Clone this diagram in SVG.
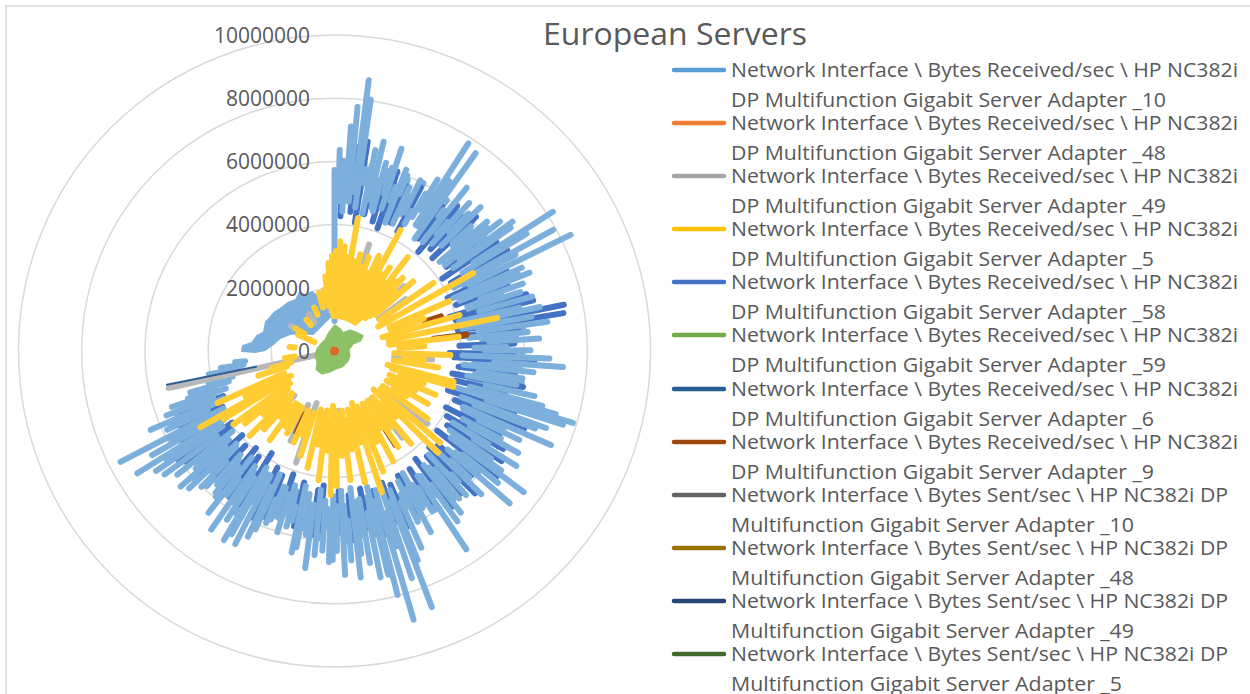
<svg xmlns="http://www.w3.org/2000/svg" width="1250" height="694" viewBox="0 0 1250 694">
<style>
.txt{font-family:"Open Sans","Liberation Sans",sans-serif;fill:#595959}
.grid circle{fill:none;stroke:#D9D9D9;stroke-width:1.5}
g.s{fill:none;stroke-width:6;stroke-linecap:round;stroke-linejoin:round}
.lb{stroke:#7DAFDD}
.db{stroke:#4472C4}
.yl{stroke:#FFCC33}
.gr{stroke:#B8B8B8}
.br{stroke:#9E480E}
.leg line{stroke-width:4.5;stroke-linecap:round}
.leg text{font-size:20px}
</style>
<rect width="1250" height="694" fill="#FFFFFF"/>
<rect id="frame" x="6" y="6" width="1300" height="720" fill="none" stroke="#D9D9D9" stroke-width="1.5"/>
<g id="grid" class="grid">
<circle cx="334.5" cy="351" r="63.2"/>
<circle cx="334.5" cy="351" r="126.4"/>
<circle cx="334.5" cy="351" r="189.6"/>
<circle cx="334.5" cy="351" r="252.8"/>
<circle cx="334.5" cy="351" r="316"/>
</g>
<g id="plot" transform="translate(334.5 351)">
<g id="series-light-blue-base" class="s lb">
<path transform="rotate(2.3)" d="M0-148V-178"/>
<path transform="rotate(4.7)" d="M0-155V-186"/>
<path transform="rotate(6.8)" d="M0-150V-172"/>
<path transform="rotate(9.1)" d="M0-158V-190"/>
<path transform="rotate(12.4)" d="M0-152V-182"/>
<path transform="rotate(14.5)" d="M0-148V-176"/>
<path transform="rotate(16.8)" d="M0-155V-188"/>
<path transform="rotate(19.6)" d="M0-150V-178"/>
<path transform="rotate(23.2)" d="M0-158V-186"/>
<path transform="rotate(25.7)" d="M0-152V-172"/>
<path transform="rotate(27.9)" d="M0-148V-190"/>
<path transform="rotate(30.1)" d="M0-155V-182"/>
<path transform="rotate(33.5)" d="M0-150V-176"/>
<path transform="rotate(36.7)" d="M0-158V-188"/>
<path transform="rotate(38.4)" d="M0-152V-178"/>
<path transform="rotate(40.7)" d="M0-148V-186"/>
<path transform="rotate(43.4)" d="M0-155V-172"/>
<path transform="rotate(46.6)" d="M0-150V-190"/>
<path transform="rotate(48.7)" d="M0-158V-182"/>
<path transform="rotate(50.4)" d="M0-152V-176"/>
<path transform="rotate(53)" d="M0-148V-188"/>
<path transform="rotate(56.2)" d="M0-155V-178"/>
<path transform="rotate(59.7)" d="M0-150V-186"/>
<path transform="rotate(62.9)" d="M0-145V-172"/>
<path transform="rotate(65.1)" d="M0-140V-190"/>
<path transform="rotate(69.3)" d="M0-145V-182"/>
<path transform="rotate(71.5)" d="M0-140V-176"/>
<path transform="rotate(73.6)" d="M0-148V-188"/>
<path transform="rotate(75.8)" d="M0-142V-178"/>
<path transform="rotate(79.2)" d="M0-138V-186"/>
<path transform="rotate(81.2)" d="M0-145V-172"/>
<path transform="rotate(83.4)" d="M0-140V-190"/>
<path transform="rotate(85.6)" d="M0-148V-182"/>
<path transform="rotate(87.7)" d="M0-142V-176"/>
<path transform="rotate(91.1)" d="M0-138V-188"/>
<path transform="rotate(93.1)" d="M0-145V-178"/>
<path transform="rotate(95.2)" d="M0-140V-186"/>
<path transform="rotate(97.3)" d="M0-148V-172"/>
<path transform="rotate(99.5)" d="M0-142V-190"/>
<path transform="rotate(101.7)" d="M0-138V-182"/>
<path transform="rotate(103.8)" d="M0-145V-176"/>
<path transform="rotate(109.1)" d="M0-140V-188"/>
<path transform="rotate(112.3)" d="M0-148V-178"/>
<path transform="rotate(114.7)" d="M0-142V-186"/>
<path transform="rotate(117)" d="M0-150V-172"/>
<path transform="rotate(120.2)" d="M0-148V-190"/>
<path transform="rotate(123.5)" d="M0-155V-182"/>
<path transform="rotate(127.9)" d="M0-150V-176"/>
<path transform="rotate(130.1)" d="M0-158V-188"/>
<path transform="rotate(132.2)" d="M0-152V-178"/>
<path transform="rotate(135.5)" d="M0-148V-186"/>
<path transform="rotate(138.8)" d="M0-155V-172"/>
<path transform="rotate(141.1)" d="M0-150V-190"/>
<path transform="rotate(143.2)" d="M0-158V-182"/>
<path transform="rotate(145.4)" d="M0-152V-176"/>
<path transform="rotate(147.6)" d="M0-148V-188"/>
<path transform="rotate(149.8)" d="M0-155V-178"/>
<path transform="rotate(153.1)" d="M0-150V-186"/>
<path transform="rotate(155.2)" d="M0-158V-172"/>
<path transform="rotate(157.4)" d="M0-152V-190"/>
<path transform="rotate(160.3)" d="M0-148V-182"/>
<path transform="rotate(164.7)" d="M0-155V-176"/>
<path transform="rotate(167.6)" d="M0-150V-188"/>
<path transform="rotate(169.6)" d="M0-158V-178"/>
<path transform="rotate(171.6)" d="M0-152V-186"/>
<path transform="rotate(174.5)" d="M0-148V-172"/>
<path transform="rotate(176.5)" d="M0-155V-190"/>
<path transform="rotate(178.4)" d="M0-150V-182"/>
<path transform="rotate(182.6)" d="M0-158V-176"/>
<path transform="rotate(184.7)" d="M0-152V-188"/>
<path transform="rotate(186.8)" d="M0-148V-178"/>
<path transform="rotate(188.9)" d="M0-155V-186"/>
<path transform="rotate(193.2)" d="M0-150V-172"/>
<path transform="rotate(195.3)" d="M0-145V-182"/>
<path transform="rotate(198.6)" d="M0-150V-176"/>
<path transform="rotate(200.7)" d="M0-145V-180"/>
<path transform="rotate(202.9)" d="M0-140V-178"/>
<path transform="rotate(206.2)" d="M0-145V-186"/>
<path transform="rotate(208.4)" d="M0-140V-172"/>
<path transform="rotate(211.5)" d="M0-138V-190"/>
<path transform="rotate(213.7)" d="M0-145V-182"/>
<path transform="rotate(215.8)" d="M0-140V-176"/>
<path transform="rotate(219.1)" d="M0-138V-188"/>
<path transform="rotate(221.2)" d="M0-145V-178"/>
<path transform="rotate(223.4)" d="M0-140V-186"/>
<path transform="rotate(225.6)" d="M0-138V-172"/>
<path transform="rotate(227.7)" d="M0-142V-190"/>
<path transform="rotate(229.7)" d="M0-138V-182"/>
<path transform="rotate(233)" d="M0-135V-176"/>
<path transform="rotate(235.1)" d="M0-140V-188"/>
<path transform="rotate(239.3)" d="M0-135V-178"/>
<path transform="rotate(241.5)" d="M0-130V-186"/>
<path transform="rotate(243.8)" d="M0-135V-172"/>
<path transform="rotate(245.9)" d="M0-128V-180"/>
<path transform="rotate(248)" d="M0-125V-170"/>
</g>
<g id="series-dark-blue" class="s db">
<path transform="rotate(2.5)" d="M0-135V-190"/>
<path transform="rotate(6.5)" d="M0-140V-205"/>
<path transform="rotate(9)" d="M0-130V-212"/>
<path transform="rotate(12.3)" d="M0-140V-175"/>
<path transform="rotate(16.4)" d="M0-135V-170"/>
<path transform="rotate(19.3)" d="M0-130V-190"/>
<path transform="rotate(23.6)" d="M0-140V-180"/>
<path transform="rotate(27.8)" d="M0-135V-185"/>
<path transform="rotate(36.6)" d="M0-140V-180"/>
<path transform="rotate(40.2)" d="M0-130V-190"/>
<path transform="rotate(43.3)" d="M0-140V-185"/>
<path transform="rotate(46.5)" d="M0-135V-195"/>
<path transform="rotate(53)" d="M0-140V-175"/>
<path transform="rotate(56.1)" d="M0-130V-195"/>
<path transform="rotate(59.7)" d="M0-135V-200"/>
<path transform="rotate(64.9)" d="M0-125V-190"/>
<path transform="rotate(69.2)" d="M0-130V-185"/>
<path transform="rotate(73.5)" d="M0-120V-200"/>
<path transform="rotate(75.7)" d="M0-125V-205"/>
<path transform="rotate(78.6)" d="M0-120V-234"/>
<path transform="rotate(80.6)" d="M0-125V-232"/>
<path transform="rotate(83.3)" d="M0-120V-185"/>
<path transform="rotate(87.6)" d="M0-125V-180"/>
<path transform="rotate(91)" d="M0-115V-178"/>
<path transform="rotate(93)" d="M0-120V-200"/>
<path transform="rotate(97.2)" d="M0-125V-182"/>
<path transform="rotate(100.8)" d="M0-120V-192"/>
<path transform="rotate(103.7)" d="M0-125V-175"/>
<path transform="rotate(109)" d="M0-120V-190"/>
<path transform="rotate(112.2)" d="M0-130V-205"/>
<path transform="rotate(116.8)" d="M0-125V-185"/>
<path transform="rotate(120.1)" d="M0-130V-195"/>
<path transform="rotate(123.4)" d="M0-135V-200"/>
<path transform="rotate(127.8)" d="M0-130V-205"/>
<path transform="rotate(132.1)" d="M0-140V-185"/>
<path transform="rotate(135.4)" d="M0-135V-200"/>
<path transform="rotate(138.7)" d="M0-140V-190"/>
<path transform="rotate(143.1)" d="M0-135V-195"/>
<path transform="rotate(147.5)" d="M0-140V-180"/>
<path transform="rotate(153)" d="M0-140V-180"/>
<path transform="rotate(157.3)" d="M0-145V-190"/>
<path transform="rotate(160.2)" d="M0-140V-180"/>
<path transform="rotate(164.6)" d="M0-145V-190"/>
<path transform="rotate(169.5)" d="M0-140V-180"/>
<path transform="rotate(174.4)" d="M0-145V-190"/>
<path transform="rotate(178.3)" d="M0-140V-180"/>
<path transform="rotate(184.6)" d="M0-135V-180"/>
<path transform="rotate(186.7)" d="M0-140V-185"/>
<path transform="rotate(193)" d="M0-135V-180"/>
<path transform="rotate(198.5)" d="M0-130V-165"/>
<path transform="rotate(202.8)" d="M0-135V-180"/>
<path transform="rotate(206.1)" d="M0-130V-185"/>
<path transform="rotate(211.6)" d="M0-120V-180"/>
<path transform="rotate(215.7)" d="M0-130V-180"/>
<path transform="rotate(219)" d="M0-125V-175"/>
<path transform="rotate(223.3)" d="M0-130V-170"/>
<path transform="rotate(227.6)" d="M0-125V-180"/>
<path transform="rotate(232.9)" d="M0-130V-185"/>
<path transform="rotate(235)" d="M0-125V-190"/>
<path transform="rotate(239.2)" d="M0-130V-175"/>
<path transform="rotate(243.7)" d="M0-125V-170"/>
<path transform="rotate(247.9)" d="M0-120V-165"/>
</g>
<g id="series-light-blue" class="s lb">
<path fill="#7DAFDD" stroke-width="2" transform="translate(-334.5 -351)" d="M334,313 L334,290 L330,289 L326,293 L317,296 L312,292 L305,296 L300,292 L296,300 L288,303 L280,309 L275,312 L270,318 L266,322 L264,332 L257,336 L252,343 L243,346 L242,351 L255,352 L265,350 L272,345 L280,338 L290,334 L300,333 L313,334 L322,325 Z"/>
<path transform="rotate(0)" d="M0-30V-181"/>
<path transform="rotate(1.5)" d="M0-150V-201"/>
<path transform="rotate(3.2)" d="M0-140V-190"/>
<path transform="rotate(4.2)" d="M0-165V-225"/>
<path transform="rotate(5.4)" d="M0-150V-245"/>
<path transform="rotate(7.2)" d="M0-160V-273"/>
<path transform="rotate(8.2)" d="M0-145V-254"/>
<path transform="rotate(10)" d="M0-170V-185"/>
<path transform="rotate(11.5)" d="M0-140V-205"/>
<path transform="rotate(13.2)" d="M0-155V-215"/>
<path transform="rotate(15.3)" d="M0-145V-195"/>
<path transform="rotate(17.4)" d="M0-165V-192"/>
<path transform="rotate(18.3)" d="M0-150V-213"/>
<path transform="rotate(20.4)" d="M0-160V-175"/>
<path transform="rotate(21.6)" d="M0-138V-195"/>
<path transform="rotate(22.5)" d="M0-170V-190"/>
<path transform="rotate(24.6)" d="M0-140V-180"/>
<path transform="rotate(26.7)" d="M0-155V-191"/>
<path transform="rotate(28.9)" d="M0-145V-160"/>
<path transform="rotate(31)" d="M0-165V-200"/>
<path transform="rotate(32.8)" d="M0-150V-247"/>
<path transform="rotate(34)" d="M0-160V-205"/>
<path transform="rotate(35.5)" d="M0-138V-243"/>
<path transform="rotate(37.7)" d="M0-170V-178"/>
<path transform="rotate(39)" d="M0-140V-210"/>
<path transform="rotate(41.2)" d="M0-155V-172"/>
<path transform="rotate(42.3)" d="M0-145V-200"/>
<path transform="rotate(44.3)" d="M0-165V-192"/>
<path transform="rotate(45.4)" d="M0-150V-205"/>
<path transform="rotate(47.6)" d="M0-160V-185"/>
<path transform="rotate(49.7)" d="M0-138V-200"/>
<path transform="rotate(51)" d="M0-170V-196"/>
<path transform="rotate(52)" d="M0-140V-210"/>
<path transform="rotate(54)" d="M0-155V-220"/>
<path transform="rotate(55)" d="M0-145V-215"/>
<path transform="rotate(57.5)" d="M0-165V-259"/>
<path transform="rotate(58.6)" d="M0-150V-225"/>
<path transform="rotate(61)" d="M0-160V-250"/>
<path transform="rotate(62)" d="M0-135V-205"/>
<path transform="rotate(63.8)" d="M0-150V-263"/>
<path transform="rotate(66)" d="M0-130V-205"/>
<path transform="rotate(67)" d="M0-145V-199"/>
<path transform="rotate(68.1)" d="M0-135V-210"/>
<path transform="rotate(70.3)" d="M0-155V-200"/>
<path transform="rotate(72.4)" d="M0-140V-195"/>
<path transform="rotate(74.6)" d="M0-150V-205"/>
<path transform="rotate(76.8)" d="M0-128V-190"/>
<path transform="rotate(77.9)" d="M0-160V-210"/>
<path transform="rotate(80.1)" d="M0-130V-200"/>
<path transform="rotate(82.2)" d="M0-145V-215"/>
<path transform="rotate(84.4)" d="M0-135V-194"/>
<path transform="rotate(86.5)" d="M0-155V-205"/>
<path transform="rotate(88.7)" d="M0-140V-172"/>
<path transform="rotate(89.8)" d="M0-150V-196"/>
<path transform="rotate(92)" d="M0-128V-215"/>
<path transform="rotate(94)" d="M0-160V-229"/>
<path transform="rotate(96.1)" d="M0-130V-200"/>
<path transform="rotate(98.3)" d="M0-145V-190"/>
<path transform="rotate(100.5)" d="M0-135V-185"/>
<path transform="rotate(102.7)" d="M0-155V-205"/>
<path transform="rotate(104.8)" d="M0-140V-215"/>
<path transform="rotate(105.9)" d="M0-150V-230"/>
<path transform="rotate(106.8)" d="M0-128V-249"/>
<path transform="rotate(107.9)" d="M0-160V-240"/>
<path transform="rotate(110)" d="M0-135V-225"/>
<path transform="rotate(111.1)" d="M0-150V-215"/>
<path transform="rotate(113.5)" d="M0-140V-236"/>
<path transform="rotate(115.7)" d="M0-160V-205"/>
<path transform="rotate(117.9)" d="M0-145V-188"/>
<path transform="rotate(119)" d="M0-155V-210"/>
<path transform="rotate(121.2)" d="M0-138V-180"/>
<path transform="rotate(122.3)" d="M0-165V-215"/>
<path transform="rotate(124.5)" d="M0-140V-190"/>
<path transform="rotate(125.6)" d="M0-155V-205"/>
<path transform="rotate(126.7)" d="M0-145V-236"/>
<path transform="rotate(128.9)" d="M0-165V-210"/>
<path transform="rotate(131)" d="M0-150V-232"/>
<path transform="rotate(133.2)" d="M0-160V-185"/>
<path transform="rotate(134.3)" d="M0-138V-205"/>
<path transform="rotate(136.5)" d="M0-170V-180"/>
<path transform="rotate(137.6)" d="M0-140V-195"/>
<path transform="rotate(139.8)" d="M0-155V-193"/>
<path transform="rotate(142)" d="M0-145V-205"/>
<path transform="rotate(144.2)" d="M0-165V-210"/>
<path transform="rotate(146.4)" d="M0-150V-238"/>
<path transform="rotate(148.6)" d="M0-160V-188"/>
<path transform="rotate(150.8)" d="M0-140V-180"/>
<path transform="rotate(152)" d="M0-155V-205"/>
<path transform="rotate(154)" d="M0-145V-190"/>
<path transform="rotate(156.2)" d="M0-165V-215"/>
<path transform="rotate(158.3)" d="M0-150V-225"/>
<path transform="rotate(159.2)" d="M0-160V-274"/>
<path transform="rotate(161.2)" d="M0-140V-240"/>
<path transform="rotate(162.3)" d="M0-170V-205"/>
<path transform="rotate(163.6)" d="M0-145V-280"/>
<path transform="rotate(165.5)" d="M0-155V-252"/>
<path transform="rotate(166.5)" d="M0-140V-230"/>
<path transform="rotate(168.5)" d="M0-165V-231"/>
<path transform="rotate(170.5)" d="M0-150V-215"/>
<path transform="rotate(172.5)" d="M0-160V-205"/>
<path transform="rotate(173.4)" d="M0-138V-228"/>
<path transform="rotate(175.4)" d="M0-170V-210"/>
<path transform="rotate(177.3)" d="M0-140V-224"/>
<path transform="rotate(179.3)" d="M0-155V-200"/>
<path transform="rotate(180.5)" d="M0-145V-209"/>
<path transform="rotate(181.5)" d="M0-160V-211"/>
<path transform="rotate(183.5)" d="M0-150V-200"/>
<path transform="rotate(185.6)" d="M0-140V-205"/>
<path transform="rotate(187.7)" d="M0-155V-219"/>
<path transform="rotate(189.9)" d="M0-145V-180"/>
<path transform="rotate(191)" d="M0-165V-200"/>
<path transform="rotate(192)" d="M0-138V-206"/>
<path transform="rotate(194.1)" d="M0-160V-175"/>
<path transform="rotate(196.3)" d="M0-140V-170"/>
<path transform="rotate(197.5)" d="M0-150V-190"/>
<path transform="rotate(199.6)" d="M0-145V-175"/>
<path transform="rotate(201.7)" d="M0-160V-185"/>
<path transform="rotate(203.9)" d="M0-135V-195"/>
<path transform="rotate(205)" d="M0-150V-205"/>
<path transform="rotate(207.2)" d="M0-140V-217"/>
<path transform="rotate(209.3)" d="M0-155V-210"/>
<path transform="rotate(210.3)" d="M0-135V-219"/>
<path transform="rotate(212.5)" d="M0-150V-200"/>
<path transform="rotate(214.6)" d="M0-140V-217"/>
<path transform="rotate(216.8)" d="M0-160V-180"/>
<path transform="rotate(217.9)" d="M0-135V-205"/>
<path transform="rotate(220)" d="M0-150V-185"/>
<path transform="rotate(222.2)" d="M0-140V-175"/>
<path transform="rotate(224.4)" d="M0-155V-190"/>
<path transform="rotate(226.6)" d="M0-135V-200"/>
<path transform="rotate(228.6)" d="M0-145V-205"/>
<path transform="rotate(230.7)" d="M0-155V-178"/>
<path transform="rotate(231.8)" d="M0-130V-200"/>
<path transform="rotate(234)" d="M0-145V-210"/>
<path transform="rotate(236.1)" d="M0-135V-215"/>
<path transform="rotate(237.2)" d="M0-150V-200"/>
<path transform="rotate(238.2)" d="M0-130V-232"/>
<path transform="rotate(240.3)" d="M0-145V-210"/>
<path transform="rotate(242.6)" d="M0-125V-241"/>
<path transform="rotate(244.8)" d="M0-140V-185"/>
<path transform="rotate(246.8)" d="M0-120V-200"/>
<path transform="rotate(249)" d="M0-130V-180"/>
<path transform="rotate(251)" d="M0-115V-172"/>
<path transform="rotate(252)" d="M0-125V-154"/>
<path transform="rotate(254)" d="M0-110V-150"/>
<path transform="rotate(256)" d="M0-105V-130"/>
<path transform="rotate(258.5)" d="M0-100V-120"/>
<path transform="rotate(259.5)" d="M0-95V-128"/>
<path transform="rotate(261.5)" d="M0-92V-115"/>
<path transform="rotate(263.5)" d="M0-90V-100"/>
</g>
<g id="series-gray" class="s gr">
<path transform="rotate(257.4)" d="M0-15V-170"/>
<path transform="rotate(18)" d="M0-45V-112"/>
<path transform="rotate(47)" d="M0-55V-95"/>
<path transform="rotate(54)" d="M0-55V-88"/>
<path transform="rotate(95)" d="M0-60V-98"/>
<path transform="rotate(128)" d="M0-60V-118"/>
<path transform="rotate(142)" d="M0-60V-110"/>
<path transform="rotate(176)" d="M0-60V-100"/>
<path transform="rotate(199)" d="M0-55V-118"/>
<path transform="rotate(206)" d="M0-60V-100"/>
<path transform="rotate(222)" d="M0-60V-105"/>
<path transform="rotate(300)" d="M0-38V-50"/>
<path transform="rotate(325)" d="M0-35V-45"/>
</g>
<g id="series-navy" fill="none" stroke="#2E5E95" stroke-width="2" stroke-linecap="round">
<path transform="rotate(258.6)" d="M0-80V-171"/>
</g>
<g id="series-brown" class="s br">
<path transform="rotate(83)" d="M0-100V-133"/>
<path transform="rotate(72)" d="M0-95V-112"/>
<path transform="rotate(147)" d="M0-95V-112"/>
<path transform="rotate(233)" d="M0-90V-108"/>
<path transform="rotate(205)" d="M0-70V-90"/>
</g>
<g id="series-yellow" class="s yl">
<path transform="rotate(350)" d="M0-50V-62"/>
<path transform="rotate(353)" d="M0-45V-75"/>
<path transform="rotate(356)" d="M0-40V-88"/>
<path transform="rotate(358.5)" d="M0-35V-95"/>
<path transform="rotate(0.7)" d="M0-35V-100"/>
<path transform="rotate(3)" d="M0-35V-110"/>
<path transform="rotate(5.5)" d="M0-35V-105"/>
<path transform="rotate(8)" d="M0-35V-95"/>
<path transform="rotate(10)" d="M0-40V-135"/>
<path transform="rotate(12.5)" d="M0-35V-92"/>
<path transform="rotate(15)" d="M0-40V-100"/>
<path transform="rotate(17.5)" d="M0-35V-88"/>
<path transform="rotate(20)" d="M0-40V-100"/>
<path transform="rotate(22.5)" d="M0-35V-85"/>
<path transform="rotate(25)" d="M0-40V-105"/>
<path transform="rotate(27)" d="M0-35V-100"/>
<path transform="rotate(28.6)" d="M0-40V-138"/>
<path transform="rotate(31)" d="M0-35V-90"/>
<path transform="rotate(33.5)" d="M0-40V-100"/>
<path transform="rotate(36)" d="M0-35V-85"/>
<path transform="rotate(38)" d="M0-40V-119"/>
<path transform="rotate(40.5)" d="M0-45V-92"/>
<path transform="rotate(43)" d="M0-45V-100"/>
<path transform="rotate(45.5)" d="M0-50V-85"/>
<path transform="rotate(48.5)" d="M0-55V-105"/>
<path transform="rotate(55.5)" d="M0-55V-120"/>
<path transform="rotate(60.7)" d="M0-50V-159"/>
<path transform="rotate(66.5)" d="M0-60V-125"/>
<path transform="rotate(70)" d="M0-60V-95"/>
<path transform="rotate(74)" d="M0-50V-130"/>
<path transform="rotate(78.5)" d="M0-55V-166"/>
<path transform="rotate(83.5)" d="M0-55V-125"/>
<path transform="rotate(87)" d="M0-65V-90"/>
<path transform="rotate(92)" d="M0-60V-116"/>
<path transform="rotate(95.5)" d="M0-70V-90"/>
<path transform="rotate(99)" d="M0-60V-105"/>
<path transform="rotate(104.6)" d="M0-55V-123"/>
<path transform="rotate(106.8)" d="M0-60V-124"/>
<path transform="rotate(110)" d="M0-70V-95"/>
<path transform="rotate(113.5)" d="M0-60V-110"/>
<path transform="rotate(116)" d="M0-65V-90"/>
<path transform="rotate(119.5)" d="M0-60V-107"/>
<path transform="rotate(122)" d="M0-70V-85"/>
<path transform="rotate(126)" d="M0-60V-115"/>
<path transform="rotate(131)" d="M0-60V-140"/>
<path transform="rotate(134.5)" d="M0-55V-145"/>
<path transform="rotate(137)" d="M0-70V-90"/>
<path transform="rotate(140.5)" d="M0-60V-120"/>
<path transform="rotate(143)" d="M0-65V-95"/>
<path transform="rotate(146.5)" d="M0-60V-115"/>
<path transform="rotate(149)" d="M0-70V-90"/>
<path transform="rotate(152)" d="M0-60V-125"/>
<path transform="rotate(155)" d="M0-65V-100"/>
<path transform="rotate(158)" d="M0-60V-130"/>
<path transform="rotate(161.5)" d="M0-55V-149"/>
<path transform="rotate(164)" d="M0-65V-95"/>
<path transform="rotate(167)" d="M0-60V-135"/>
<path transform="rotate(170)" d="M0-70V-100"/>
<path transform="rotate(173)" d="M0-60V-130"/>
<path transform="rotate(176)" d="M0-65V-105"/>
<path transform="rotate(179)" d="M0-60V-135"/>
<path transform="rotate(181.6)" d="M0-55V-144"/>
<path transform="rotate(184)" d="M0-70V-100"/>
<path transform="rotate(187)" d="M0-60V-130"/>
<path transform="rotate(190)" d="M0-65V-95"/>
<path transform="rotate(193)" d="M0-60V-120"/>
<path transform="rotate(198)" d="M0-65V-110"/>
<path transform="rotate(201)" d="M0-70V-90"/>
<path transform="rotate(204)" d="M0-65V-100"/>
<path transform="rotate(210)" d="M0-65V-95"/>
<path transform="rotate(213)" d="M0-65V-90"/>
<path transform="rotate(216)" d="M0-65V-110"/>
<path transform="rotate(219)" d="M0-70V-85"/>
<path transform="rotate(222)" d="M0-65V-105"/>
<path transform="rotate(225)" d="M0-60V-120"/>
<path transform="rotate(228)" d="M0-65V-95"/>
<path transform="rotate(231)" d="M0-60V-115"/>
<path transform="rotate(234)" d="M0-55V-125"/>
<path transform="rotate(238.5)" d="M0-55V-130"/>
<path transform="rotate(240.4)" d="M0-50V-154"/>
<path transform="rotate(243)" d="M0-60V-100"/>
<path transform="rotate(246)" d="M0-55V-128"/>
<path transform="rotate(252)" d="M0-50V-80"/>
<path transform="rotate(255)" d="M0-45V-65"/>
<path transform="rotate(262)" d="M0-40V-50"/>
<path transform="rotate(275)" d="M0-40V-45"/>
<path transform="rotate(294)" d="M0-22V-40"/>
<path transform="rotate(300)" d="M0-35V-45"/>
<path transform="rotate(318)" d="M0-35V-42"/>
<path transform="rotate(335)" d="M0-40V-48"/>
<path transform="rotate(345)" d="M0-45V-60"/>
</g>
<g id="series-green">
<path fill="#8CC168" stroke="#8CC168" stroke-width="3" stroke-linejoin="round" transform="translate(-334.5 -351)" d="M335,326 L340,330 L343,334 L350,331 L356,333 L362,336 L360,340 L353,343 L348,349 L349,356 L347,361 L342,366 L336,368 L330,371 L322,373 L317,369 L318,362 L316,356 L318,349 L322,344 L326,340 L329,334 Z"/>
</g>
<g id="series-orange">
<circle cx="0" cy="0" r="4.5" fill="#E0662A"/>
</g>
</g>
<g id="axis-labels" class="txt" font-size="21" text-anchor="end">
<text x="310" y="43">10000000</text>
<text x="310" y="106">8000000</text>
<text x="310" y="169">6000000</text>
<text x="310" y="232">4000000</text>
<text x="310" y="296">2000000</text>
<text x="310" y="359">0</text>
</g>
<g id="title">
<text class="txt" x="543" y="45" font-size="31" textLength="264" lengthAdjust="spacingAndGlyphs">European Servers</text>
</g>
<g id="legend" class="leg txt">
<g id="leg1"><line x1="674" y1="70" x2="724" y2="70" stroke="#5B9BD5"/><text x="731" y="77" textLength="507" lengthAdjust="spacingAndGlyphs">Network Interface \ Bytes Received/sec \ HP NC382i</text><text x="731" y="107" textLength="435" lengthAdjust="spacingAndGlyphs">DP Multifunction Gigabit Server Adapter _10</text></g>
<g id="leg2"><line x1="674" y1="123" x2="724" y2="123" stroke="#ED7D31"/><text x="731" y="130" textLength="507" lengthAdjust="spacingAndGlyphs">Network Interface \ Bytes Received/sec \ HP NC382i</text><text x="731" y="160" textLength="435" lengthAdjust="spacingAndGlyphs">DP Multifunction Gigabit Server Adapter _48</text></g>
<g id="leg3"><line x1="674" y1="176" x2="724" y2="176" stroke="#A5A5A5"/><text x="731" y="183" textLength="507" lengthAdjust="spacingAndGlyphs">Network Interface \ Bytes Received/sec \ HP NC382i</text><text x="731" y="213" textLength="435" lengthAdjust="spacingAndGlyphs">DP Multifunction Gigabit Server Adapter _49</text></g>
<g id="leg4"><line x1="674" y1="229" x2="724" y2="229" stroke="#FFC000"/><text x="731" y="236" textLength="507" lengthAdjust="spacingAndGlyphs">Network Interface \ Bytes Received/sec \ HP NC382i</text><text x="731" y="266" textLength="423" lengthAdjust="spacingAndGlyphs">DP Multifunction Gigabit Server Adapter _5</text></g>
<g id="leg5"><line x1="674" y1="282" x2="724" y2="282" stroke="#4472C4"/><text x="731" y="289" textLength="507" lengthAdjust="spacingAndGlyphs">Network Interface \ Bytes Received/sec \ HP NC382i</text><text x="731" y="319" textLength="435" lengthAdjust="spacingAndGlyphs">DP Multifunction Gigabit Server Adapter _58</text></g>
<g id="leg6"><line x1="674" y1="335" x2="724" y2="335" stroke="#70AD47"/><text x="731" y="342" textLength="507" lengthAdjust="spacingAndGlyphs">Network Interface \ Bytes Received/sec \ HP NC382i</text><text x="731" y="372" textLength="435" lengthAdjust="spacingAndGlyphs">DP Multifunction Gigabit Server Adapter _59</text></g>
<g id="leg7"><line x1="674" y1="389" x2="724" y2="389" stroke="#255E91"/><text x="731" y="396" textLength="507" lengthAdjust="spacingAndGlyphs">Network Interface \ Bytes Received/sec \ HP NC382i</text><text x="731" y="426" textLength="423" lengthAdjust="spacingAndGlyphs">DP Multifunction Gigabit Server Adapter _6</text></g>
<g id="leg8"><line x1="674" y1="442" x2="724" y2="442" stroke="#9E480E"/><text x="731" y="449" textLength="507" lengthAdjust="spacingAndGlyphs">Network Interface \ Bytes Received/sec \ HP NC382i</text><text x="731" y="479" textLength="423" lengthAdjust="spacingAndGlyphs">DP Multifunction Gigabit Server Adapter _9</text></g>
<g id="leg9"><line x1="674" y1="495" x2="724" y2="495" stroke="#636363"/><text x="731" y="502" textLength="497" lengthAdjust="spacingAndGlyphs">Network Interface \ Bytes Sent/sec \ HP NC382i DP</text><text x="731" y="532" textLength="403" lengthAdjust="spacingAndGlyphs">Multifunction Gigabit Server Adapter _10</text></g>
<g id="leg10"><line x1="674" y1="548" x2="724" y2="548" stroke="#997300"/><text x="731" y="555" textLength="497" lengthAdjust="spacingAndGlyphs">Network Interface \ Bytes Sent/sec \ HP NC382i DP</text><text x="731" y="585" textLength="403" lengthAdjust="spacingAndGlyphs">Multifunction Gigabit Server Adapter _48</text></g>
<g id="leg11"><line x1="674" y1="601" x2="724" y2="601" stroke="#264478"/><text x="731" y="608" textLength="497" lengthAdjust="spacingAndGlyphs">Network Interface \ Bytes Sent/sec \ HP NC382i DP</text><text x="731" y="638" textLength="403" lengthAdjust="spacingAndGlyphs">Multifunction Gigabit Server Adapter _49</text></g>
<g id="leg12"><line x1="674" y1="654" x2="724" y2="654" stroke="#43682B"/><text x="731" y="661" textLength="497" lengthAdjust="spacingAndGlyphs">Network Interface \ Bytes Sent/sec \ HP NC382i DP</text><text x="731" y="691" textLength="391" lengthAdjust="spacingAndGlyphs">Multifunction Gigabit Server Adapter _5</text></g>
</g>
</svg>
